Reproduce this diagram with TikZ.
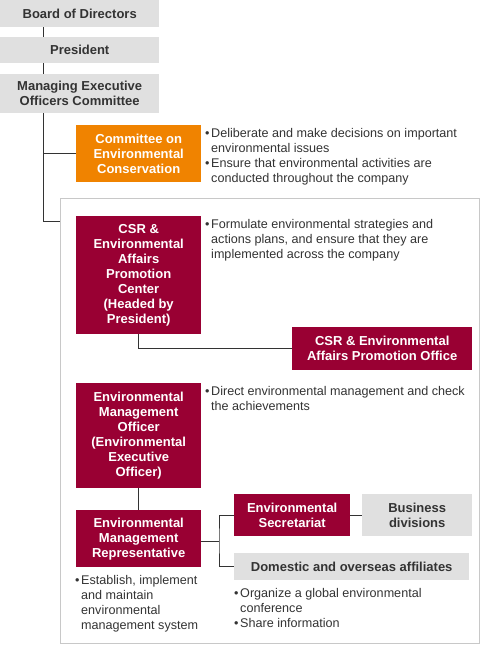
\documentclass[tikz,border=0pt]{standalone}
\usepackage{fontspec}
\setmainfont{Liberation Sans}
\definecolor{boxgray}{RGB}{224,224,224}
\definecolor{wine}{RGB}{153,0,51}
\definecolor{amber}{RGB}{240,131,0}
\definecolor{inkgray}{RGB}{51,51,51}
\definecolor{rulegray}{RGB}{200,200,200}
\newcommand{\txtsize}{\fontsize{12.6}{15}\selectfont}
\newcommand{\boxsize}{\fontsize{13}{15}\selectfont}
\newcommand{\bul}{\makebox[6pt][l]{•}}
\newcommand{\ind}{\hspace*{6pt}}
\tikzset{
	unit/.style={anchor=north west, inner sep=0pt, align=center, font=\boxsize\bfseries},
	graybox/.style={unit, fill=boxgray, text=inkgray},
	winebox/.style={unit, fill=wine, text=white},
	amberbox/.style={unit, fill=amber, text=white},
	note/.style={anchor=north west, inner sep=0pt, align=left, text=inkgray, font=\txtsize},
	link/.style={draw=inkgray, line width=1pt},
}
\begin{document}
\begin{tikzpicture}[x=1pt, y=-1pt]
		\useasboundingbox (0, 0) rectangle (480, 645);
		\node[graybox, minimum width=159pt, minimum height=27pt] (board) at (0, 0) {Board of Directors};
		\node[graybox, minimum width=159pt, minimum height=26pt] (pres) at (0, 37) {President};
		\node[graybox, minimum width=159pt, minimum height=39pt] (mec) at (0, 74) {Managing Executive\\Officers Committee};
		\coordinate (spine) at (43, 0);
		\node[amberbox, minimum width=125pt, minimum height=57pt] (cec) at (76, 125) {Committee on\\Environmental\\Conservation};
		\node[note] (cecnote) at (205, 128) {\bul Deliberate and make decisions on important\\\ind environmental issues\\\bul Ensure that environmental activities are\\\ind conducted throughout the company};
		\node[draw=rulegray, line width=1pt, anchor=north west, inner sep=0pt, minimum width=419pt, minimum height=445pt] (envframe) at (60, 198) {};
		\coordinate (framejoin) at (60, 221);
		\draw[link] (board.south -| spine) -- (pres.north -| spine);
		\draw[link] (pres.south -| spine) -- (mec.north -| spine);
		\draw[link] (mec.south -| spine) |- (framejoin);
		\draw[link] (mec.south -| spine) |- (cec.west);
		\node[winebox, minimum width=125pt, minimum height=118pt] (csrc) at (76, 216) {CSR \&\\Environmental\\Affairs\\Promotion\\Center\\(Headed by\\President)};
		\node[note] (csrcnote) at (205, 219) {\bul Formulate environmental strategies and\\\ind actions plans, and ensure that they are\\\ind implemented across the company};
		\node[winebox, minimum width=180pt, minimum height=43pt] (csro) at (292, 327) {CSR \& Environmental\\Affairs Promotion Office};
		\draw[link] (csrc.south) |- (csro.west);
		\node[winebox, minimum width=125pt, minimum height=105pt] (emo) at (76, 383) {Environmental\\Management\\Officer\\(Environmental\\Executive\\Officer)};
		\node[note] (emonote) at (205, 386) {\bul Direct environmental management and check\\\ind the achievements};
		\node[winebox, minimum width=125pt, minimum height=57pt] (emr) at (76, 510) {Environmental\\Management\\Representative};
		\node[note] (emrnote) at (75, 575) {\bul Establish, implement\\\ind and maintain\\\ind environmental\\\ind management system};
		\draw[link] (emo.south) -- (emr.north);
		\node[winebox, minimum width=116pt, minimum height=42pt] (sec) at (234, 494) {Environmental\\Secretariat};
		\node[graybox, minimum width=110pt, minimum height=42pt] (biz) at (362, 494) {Business\\divisions};
		\node[graybox, minimum width=235pt, minimum height=27pt] (dom) at (234, 553) {Domestic and overseas affiliates};
		\node[note] (domnote) at (234, 588) {\bul Organize a global environmental\\\ind conference\\\bul Share information};
		\coordinate (fork) at (219, 541);
		\draw[link] (emr.east |- fork) -- (fork);
		\draw[link] (sec.west) -| (fork) |- (dom.west);
		\draw[link] (sec.east) -- (biz.west);
	\end{tikzpicture}
\end{document}
